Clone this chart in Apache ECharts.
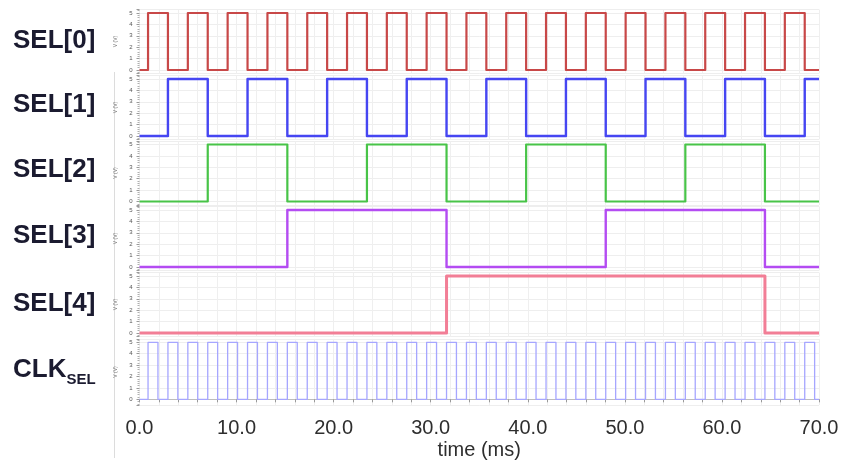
<!DOCTYPE html>
<html><head><meta charset="utf-8">
<script src="https://cdn.jsdelivr.net/npm/echarts@6/dist/echarts.min.js"></script>
<style>html,body{margin:0;padding:0;background:#fff}#c{width:845px;height:465px}</style>
</head><body><div id="c"></div>
<script>
// ---- data (times in ms) ----
const signalNames = ['SEL[0]', 'SEL[1]', 'SEL[2]', 'SEL[3]', 'SEL[4]', 'CLK'];
const lowLevel = 0;
const highLevel = 5;
const tStart = 0;
const tEnd = 70;
const xTickLabels = ['0.0', '10.0', '20.0', '30.0', '40.0', '50.0', '60.0', '70.0'];
const yTickLabels = ['0', '1', '2', '3', '4', '5'];
// toggle times of each signal (each starts low)
const sel0Edges = [0.88, 2.93, 4.98, 7.03, 9.08, 11.13, 13.18, 15.23, 17.28, 19.33, 21.38, 23.43, 25.48, 27.53, 29.58, 31.63, 33.68, 35.73, 37.78, 39.83, 41.88, 43.93, 45.98, 48.03, 50.08, 52.13, 54.18, 56.23, 58.28, 60.33, 62.38, 64.43, 66.48, 68.53];
const sel1Edges = [2.93, 7.03, 11.13, 15.23, 19.33, 23.43, 27.53, 31.63, 35.73, 39.83, 43.93, 48.03, 52.13, 56.23, 60.33, 64.43, 68.53];
const sel2Edges = [7.03, 15.23, 23.43, 31.63, 39.83, 48.03, 56.23, 64.43];
const sel3Edges = [15.23, 31.63, 48.03, 64.43];
const sel4Edges = [31.63, 64.43];
const clkRise = [0.88, 2.93, 4.98, 7.03, 9.08, 11.13, 13.18, 15.23, 17.28, 19.33, 21.38, 23.43, 25.48, 27.53, 29.58, 31.63, 33.68, 35.73, 37.78, 39.83, 41.88, 43.93, 45.98, 48.03, 50.08, 52.13, 54.18, 56.23, 58.28, 60.33, 62.38, 64.43, 66.48, 68.53];
const clkFall = [1.90, 3.95, 6.00, 8.05, 10.10, 12.15, 14.20, 16.25, 18.30, 20.35, 22.40, 24.45, 26.50, 28.55, 30.60, 32.65, 34.70, 36.75, 38.80, 40.85, 42.90, 44.95, 47.00, 49.05, 51.10, 53.15, 55.20, 57.25, 59.30, 61.35, 63.40, 65.45, 67.50, 69.55];

// ---- style ----
const colors = ['#c84848', '#4646f2', '#48c448', '#b44cf2', '#f27e96', '#a6a6ff'];
const widths = [2.2, 2.4, 2.2, 2.4, 3, 1.3];
const zeroY = [70, 136, 201.5, 267, 333, 399.3];
const pxPerV = 11.4;
const plotLeft = 139.5, plotRight = 819;

function wave(edges) {
  let v = lowLevel;
  const d = [[tStart, v]];
  edges.forEach(t => { v = (v === lowLevel) ? highLevel : lowLevel; d.push([t, v]); });
  d.push([tEnd, v]);
  return d;
}
const clkEdges = clkRise.concat(clkFall).sort((a, b) => a - b);
const allEdges = [sel0Edges, sel1Edges, sel2Edges, sel3Edges, sel4Edges, clkEdges];

const grids = [], xAxes = [], yAxes = [], series = [];
for (let i = 0; i < 6; i++) {
  const last = i === 5;
  const yMin = last ? -0.5 : -0.3, yMax = 5.3;
  const top = zeroY[i] - (yMax) * pxPerV;
  const height = (yMax - yMin) * pxPerV;
  grids.push({ left: plotLeft, width: plotRight - plotLeft, top: top, height: height });
  xAxes.push({
    type: 'value', gridIndex: i, min: 0, max: 70, interval: 10,
    axisLine: { show: last, lineStyle: { color: '#bdbdbd', width: 1 } },
    axisTick: { show: last, length: 3, lineStyle: { color: '#9a9a9a' } },
    minorTick: { show: last, splitNumber: 5, length: 3, lineStyle: { color: '#9a9a9a' } },
    splitLine: { show: true, lineStyle: { color: '#efefef', width: 1 } },
    minorSplitLine: { show: true, lineStyle: { color: '#efefef', width: 1 } },
    axisLabel: {
      show: last, margin: 13, fontSize: 20, color: '#2e2e2e', fontFamily: 'Liberation Sans',
      formatter: v => xTickLabels[Math.round(v / 10)] || ''
    },
    name: last ? 'time (ms)' : '', nameLocation: 'middle', nameGap: 35,
    nameTextStyle: { fontSize: 20, color: '#2e2e2e', fontFamily: 'Liberation Sans' }
  });
  yAxes.push({
    type: 'value', gridIndex: i, min: yMin, max: yMax, splitNumber: 5,
    axisLine: { show: false },
    axisTick: { show: true, length: 3, lineStyle: { color: '#9a9a9a' } },
    minorTick: { show: true, splitNumber: 5, length: 2, lineStyle: { color: '#b0b0b0' } },
    splitLine: { show: true, lineStyle: { color: '#eeeeee', width: 1 } },
    axisLabel: {
      show: true, margin: 7, fontSize: 6, color: '#555', showMinLabel: false, showMaxLabel: false,
      formatter: v => (Math.abs(v - Math.round(v)) < 1e-6 && v >= 0 && v <= 5) ? yTickLabels[Math.round(v)] : ''
    },
    name: 'V (V)', nameLocation: 'middle', nameGap: 13, nameRotate: 90,
    nameTextStyle: { fontSize: 5, color: '#777' }
  });
  series.push({
    type: 'line', xAxisIndex: i, yAxisIndex: i, step: 'end', showSymbol: false,
    data: wave(allEdges[i]),
    lineStyle: { color: colors[i], width: widths[i], join: 'round' },
    clip: false
  });
}

const labelY = [43, 107, 172, 238, 306, 372];
const graphics = [];
const txtStyle = { fontFamily: 'Liberation Sans', fontWeight: 'bold', fontSize: 26, fill: '#1b1b30' };
for (let i = 0; i < 5; i++) {
  graphics.push({ type: 'text', left: 13, top: labelY[i] - 15,
    style: Object.assign({ text: signalNames[i] }, txtStyle) });
}
graphics.push({ type: 'text', left: 13, top: labelY[5] - 15,
  style: {
    text: '{a|CLK}{b|SEL}', fill: '#1b1b30',
    rich: {
      a: { fontFamily: 'Liberation Sans', fontWeight: 'bold', fontSize: 26, fill: '#1b1b30', verticalAlign: 'bottom' },
      b: { fontFamily: 'Liberation Sans', fontWeight: 'bold', fontSize: 15, fill: '#1b1b30', verticalAlign: 'bottom', padding: [0, 0, -4, 0] }
    }
  } });
graphics.push({ type: 'line', shape: { x1: 114.5, y1: 72, x2: 114.5, y2: 458 },
  style: { stroke: '#dcdcdc', lineWidth: 1 } });

const chart = echarts.init(document.getElementById('c'), null, { renderer: 'canvas' });
chart.setOption({
  animation: false,
  backgroundColor: '#ffffff',
  grid: grids, xAxis: xAxes, yAxis: yAxes, series: series,
  graphic: graphics
});
</script></body></html>
